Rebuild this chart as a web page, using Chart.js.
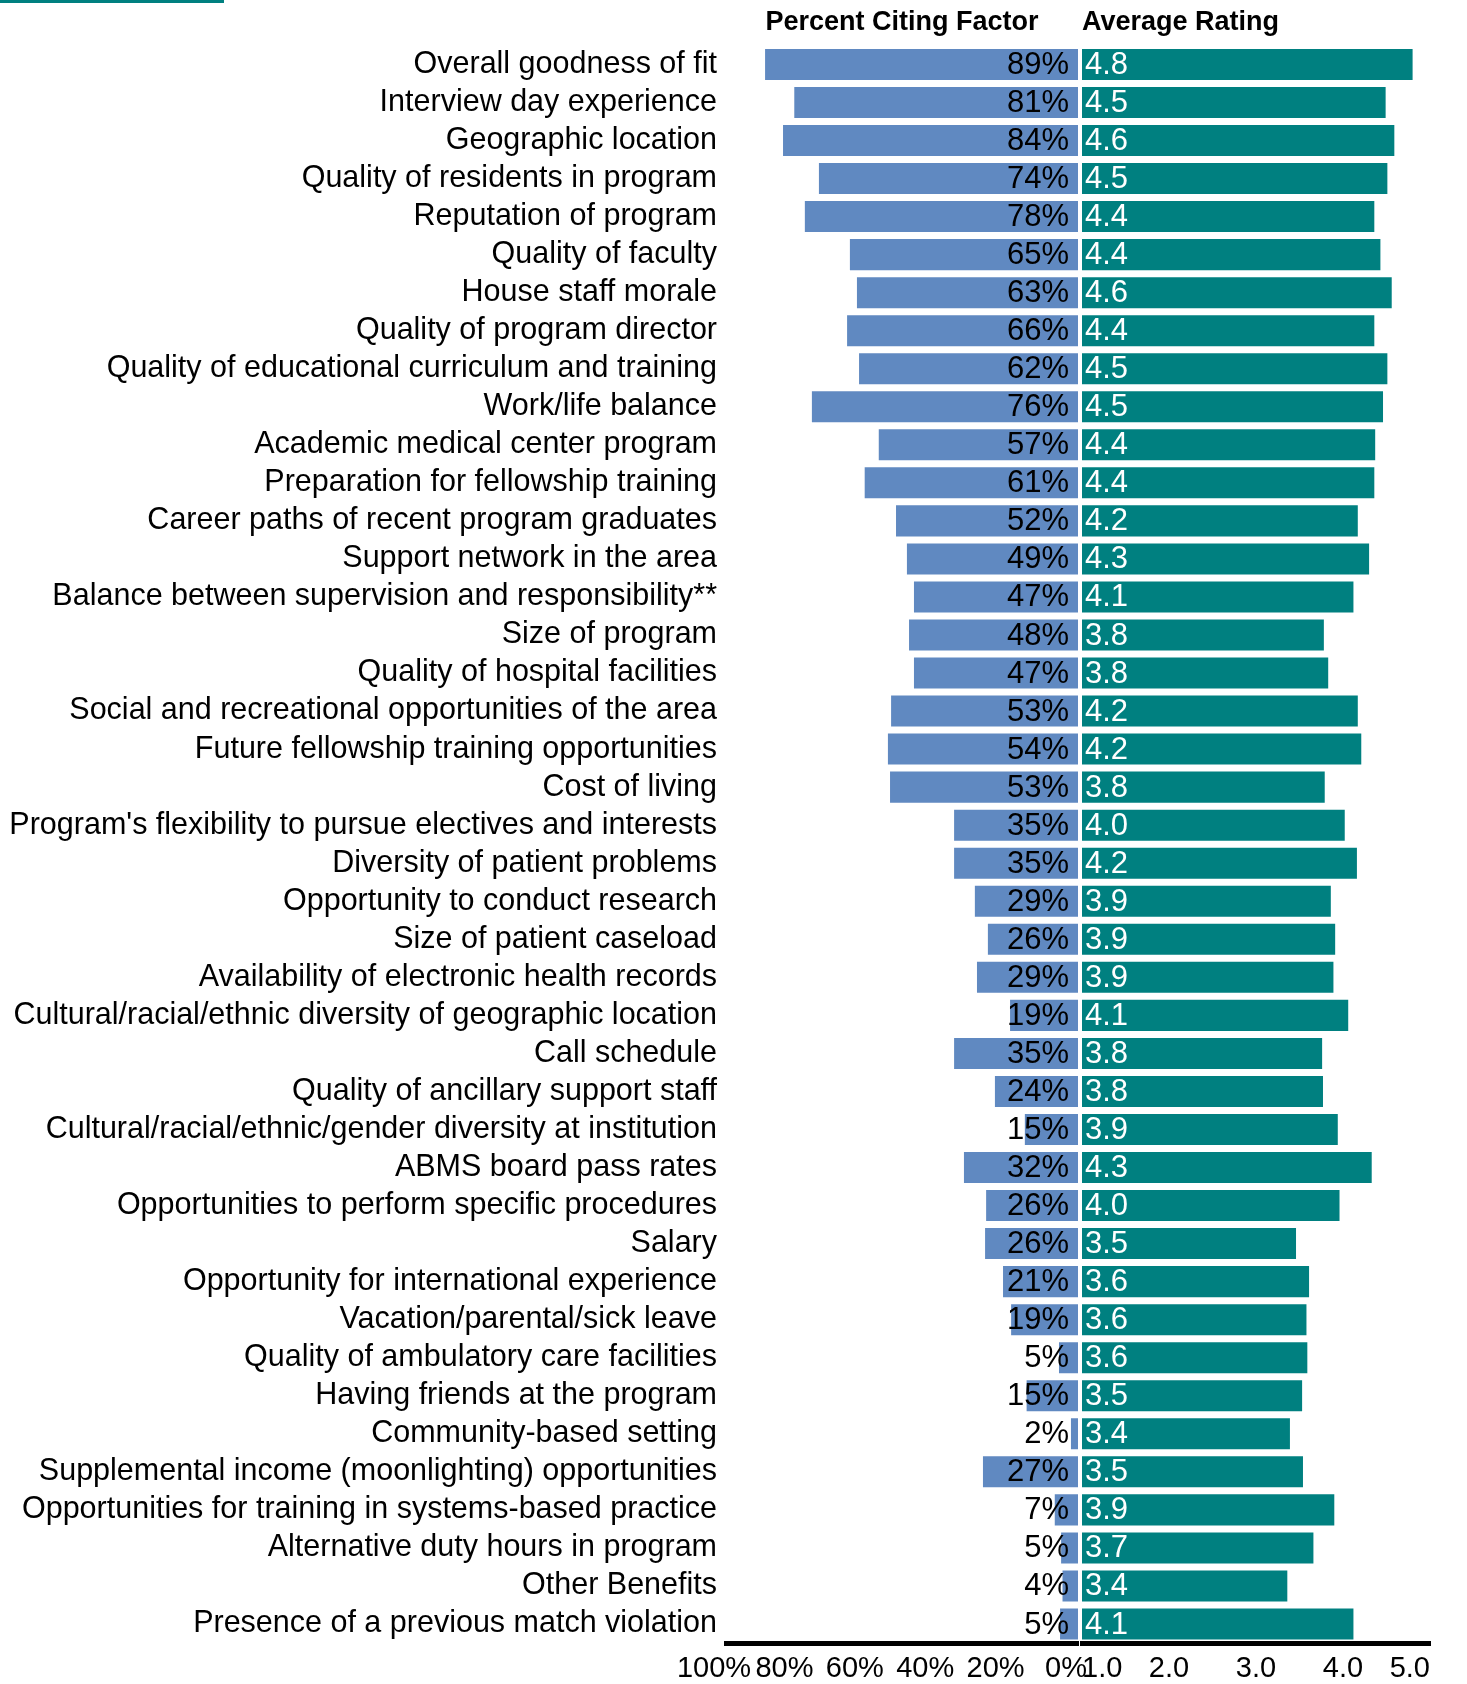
<!DOCTYPE html>
<html>
<head>
<meta charset="utf-8">
<script src="https://cdn.jsdelivr.net/npm/chart.js@4.4.1/dist/chart.umd.min.js"></script>
<style>
  body { margin: 0; background: #fff; }
  #wrap { position: relative; width: 1467px; height: 1684px; overflow: hidden; }
  #topline { position: absolute; left: 0; top: 0; width: 224px; height: 3px; background: #008080; }
  #leftChart { position: absolute; left: 0; top: 0; }
  #rightChart { position: absolute; left: 1060px; top: 0; }
</style>
</head>
<body>
<div id="wrap">
  <div id="topline"></div>
  <canvas id="leftChart" width="1100" height="1684"></canvas>
  <canvas id="rightChart" width="407" height="1684"></canvas>
</div>
<script>
var categories = [
  "Overall goodness of fit",
  "Interview day experience",
  "Geographic location",
  "Quality of residents in program",
  "Reputation of program",
  "Quality of faculty",
  "House staff morale",
  "Quality of program director",
  "Quality of educational curriculum and training",
  "Work/life balance",
  "Academic medical center program",
  "Preparation for fellowship training",
  "Career paths of recent program graduates",
  "Support network in the area",
  "Balance between supervision and responsibility**",
  "Size of program",
  "Quality of hospital facilities",
  "Social and recreational opportunities of the area",
  "Future fellowship training opportunities",
  "Cost of living",
  "Program's flexibility to pursue electives and interests",
  "Diversity of patient problems",
  "Opportunity to conduct research",
  "Size of patient caseload",
  "Availability of electronic health records",
  "Cultural/racial/ethnic diversity of geographic location",
  "Call schedule",
  "Quality of ancillary support staff",
  "Cultural/racial/ethnic/gender diversity at institution",
  "ABMS board pass rates",
  "Opportunities to perform specific procedures",
  "Salary",
  "Opportunity for international experience",
  "Vacation/parental/sick leave",
  "Quality of ambulatory care facilities",
  "Having friends at the program",
  "Community-based setting",
  "Supplemental income (moonlighting) opportunities",
  "Opportunities for training in systems-based practice",
  "Alternative duty hours in program",
  "Other Benefits",
  "Presence of a previous match violation"
];

// percent citing factor (bar lengths as drawn, labels show the rounded number)
var percentCiting = [88.9, 80.6, 83.8, 73.6, 77.6, 64.8, 62.8, 65.6, 62.2, 75.6,
  56.6, 60.6, 51.7, 48.6, 46.6, 48.0, 46.6, 53.1, 54.0, 53.4,
  35.2, 35.2, 29.3, 25.6, 28.7, 19.3, 35.2, 23.6, 15.1, 32.4,
  26.1, 26.4, 21.3, 19.0, 5.4, 14.6, 2.0, 27.0, 6.6, 4.8, 4.4, 5.1];

// average rating (scale 1 to 5)
var avgRating = [4.80, 4.49, 4.59, 4.51, 4.36, 4.43, 4.56, 4.36, 4.51, 4.46,
  4.37, 4.36, 4.17, 4.30, 4.12, 3.78, 3.83, 4.17, 4.21, 3.79,
  4.02, 4.16, 3.86, 3.91, 3.89, 4.06, 3.76, 3.77, 3.94, 4.33,
  3.96, 3.46, 3.61, 3.58, 3.59, 3.53, 3.39, 3.54, 3.90, 3.66, 3.36, 4.12];

var percentTicks = [0, 20, 40, 60, 80, 100];
var ratingTicks = [1, 2, 3, 4, 5];

Chart.defaults.font.family = "'Liberation Sans', Arial, sans-serif";
Chart.defaults.color = '#000';
Chart.defaults.animation = false;

// writes the value next to each bar (no datalabels plugin here)
var barLabels = {
  id: 'barLabels',
  afterDatasetsDraw: function (chart, args, opts) {
    var ctx = chart.ctx;
    var meta = chart.getDatasetMeta(0);
    var data = chart.data.datasets[0].data;
    ctx.save();
    ctx.font = '31px ' + Chart.defaults.font.family;
    ctx.textBaseline = 'middle';
    ctx.fillStyle = opts.color;
    meta.data.forEach(function (bar, i) {
      if (opts.side === 'left') {
        ctx.textAlign = 'right';
        ctx.fillText(Math.round(data[i]) + '%', bar.base - 9, bar.y + 1);
      } else {
        ctx.textAlign = 'left';
        ctx.fillText(data[i].toFixed(1), bar.base + 3, bar.y + 1);
      }
    });
    ctx.restore();
  }
};

function fixX(height) {
  return function (s) {
    s.height = height;
    s.paddingLeft = 0;
    s.paddingRight = 0;
  };
}

var titleFont = { size: 27, weight: 'bold' };
var titlePad = { top: 6, bottom: 7 };

var leftChart = new Chart(document.getElementById('leftChart'), {
  type: 'bar',
  data: {
    labels: categories,
    datasets: [{
      data: percentCiting,
      backgroundColor: '#6089c1',
      categoryPercentage: 1,
      barPercentage: 0.816
    }]
  },
  plugins: [barLabels],
  options: {
    indexAxis: 'y',
    responsive: false,
    devicePixelRatio: 1,
    layout: { padding: { left: 0, right: 22, top: 0, bottom: 0 } },
    plugins: {
      legend: { display: false },
      tooltip: { enabled: false },
      title: {
        display: true,
        text: 'Percent Citing Factor',
        fullSize: false,
        font: titleFont,
        color: '#000',
        padding: titlePad
      },
      barLabels: { side: 'left', color: '#000' }
    },
    scales: {
      x: {
        reverse: true,
        min: 0,
        max: 100,
        afterBuildTicks: function (s) {
          s.ticks = percentTicks.map(function (v) { return { value: v }; });
        },
        afterFit: fixX(41),
        grid: { display: false, drawTicks: false },
        border: { display: true, color: '#000', width: 5 },
        ticks: {
          font: { size: 29 },
          padding: 9,
          labelOffset: -12,
          maxRotation: 0,
          autoSkip: false,
          callback: function (v) { return v + '%'; }
        }
      },
      y: {
        afterFit: function (s) {
          s.width = 726;
          s.paddingTop = 0;
          s.paddingBottom = 0;
        },
        grid: { display: false, drawTicks: false },
        border: { display: false },
        ticks: { font: { size: 30.5 }, padding: 9, autoSkip: false }
      }
    }
  }
});

var rightChart = new Chart(document.getElementById('rightChart'), {
  type: 'bar',
  data: {
    labels: categories,
    datasets: [{
      data: avgRating,
      base: 1,
      backgroundColor: '#008080',
      categoryPercentage: 1,
      barPercentage: 0.816
    }]
  },
  plugins: [barLabels],
  options: {
    indexAxis: 'y',
    responsive: false,
    devicePixelRatio: 1,
    layout: { padding: { left: 22, right: 37, top: 0, bottom: 0 } },
    plugins: {
      legend: { display: false },
      tooltip: { enabled: false },
      title: {
        display: true,
        text: 'Average Rating',
        align: 'start',
        fullSize: false,
        font: titleFont,
        color: '#000',
        padding: titlePad
      },
      barLabels: { side: 'right', color: '#fff' }
    },
    scales: {
      x: {
        min: 1,
        max: 5,
        afterBuildTicks: function (s) {
          s.ticks = ratingTicks.map(function (v) { return { value: v }; });
        },
        afterFit: fixX(41),
        grid: { display: false, drawTicks: false },
        border: { display: true, color: '#000', width: 5 },
        ticks: {
          font: { size: 29 },
          padding: 9,
          align: 'inner',
          maxRotation: 0,
          autoSkip: false,
          callback: function (v) { return v.toFixed(1); }
        }
      },
      y: {
        display: false
      }
    }
  }
});
</script>
</body>
</html>
